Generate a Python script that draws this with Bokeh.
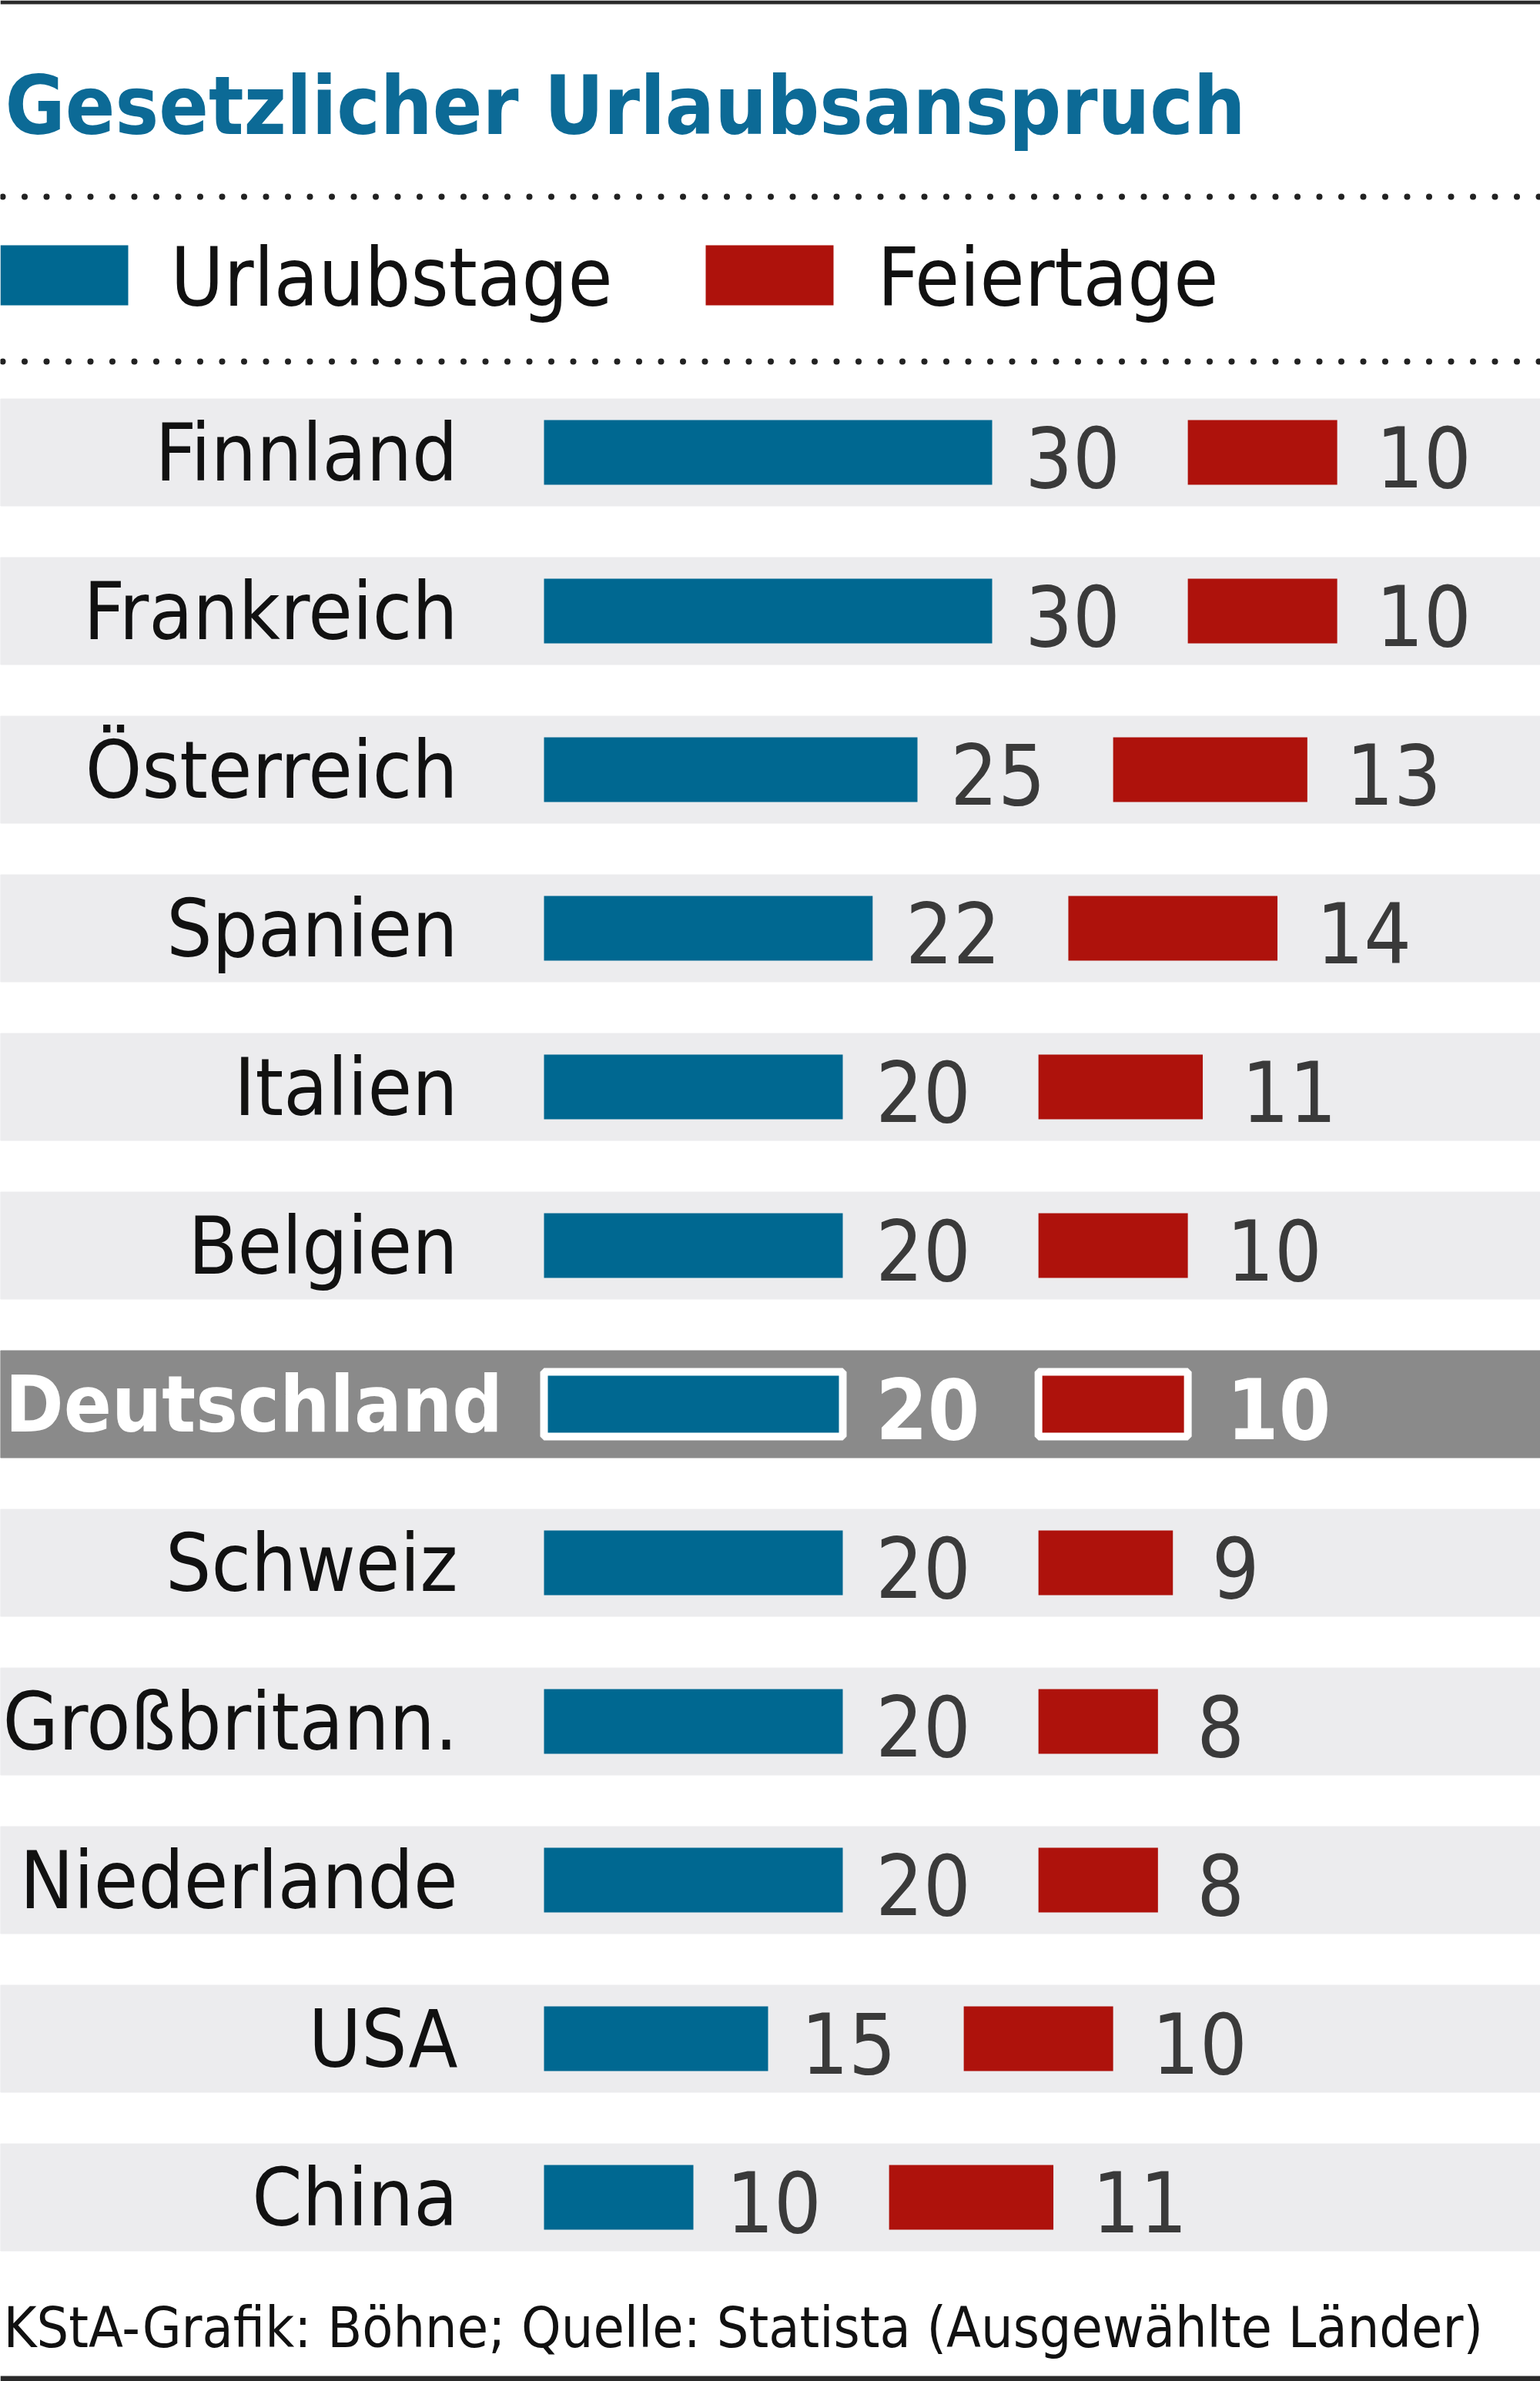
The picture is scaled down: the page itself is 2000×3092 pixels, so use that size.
import numpy as np
from bokeh.plotting import figure
from bokeh.models import ColumnDataSource, Range1d
from bokeh.core.properties import value
from bokeh.embed import file_html
from bokeh.resources import INLINE

# ---------------- data ----------------
countries = ["Finnland", "Frankreich", "Österreich", "Spanien", "Italien", "Belgien",
             "Deutschland", "Schweiz", "Großbritann.", "Niederlande", "USA", "China"]
urlaubstage = [30, 30, 25, 22, 20, 20, 20, 20, 20, 20, 15, 10]
feiertage = [10, 10, 13, 14, 11, 10, 10, 9, 8, 8, 10, 11]
highlight = "Deutschland"

title_text = "Gesetzlicher Urlaubsanspruch"
legend_labels = ["Urlaubstage", "Feiertage"]
footer_text = "KStA-Grafik: Böhne; Quelle: Statista (Ausgewählte Länder)"

# ---------------- styling ----------------
W, H = 2000, 3092
PX_PER_DAY = 19.4
ZERO_PX = 706.0
ROW_PX = 206.0
ROW0_PX = 587.0
GAP_DAYS = 13.1

FONT = "DejaVu Sans Condensed"
BLUE = "#006891"
RED = "#ae120c"
TITLE_BLUE = "#0c6a96"
BAND = "#ececee"
BAND_HL = "#8a8a8a"
VAL_COL = "#3a3a3a"


def X(px):
    return (px - ZERO_PX) / PX_PER_DAY


def Y(py):
    return (py - ROW0_PX) / ROW_PX


p = figure(width=W, height=H, output_backend="svg", toolbar_location=None,
           x_range=Range1d(X(0), X(W)), y_range=Range1d(Y(H), Y(0)),
           x_axis_location=None, y_axis_location=None, min_border=0,
           background_fill_color="white", border_fill_color="white")
p.outline_line_color = None
p.xgrid.visible = False
p.ygrid.visible = False

n = len(countries)
idx = list(range(n))
is_hl = [c == highlight for c in countries]
red_left = [u + GAP_DAYS for u in urlaubstage]
red_right = [u + GAP_DAYS + f for u, f in zip(urlaubstage, feiertage)]

src = ColumnDataSource(dict(
    y=idx,
    u=urlaubstage,
    f=feiertage,
    rl=red_left,
    rr=red_right,
    band=[BAND_HL if h else BAND for h in is_hl],
    bar_line=["white" if h else None for h in is_hl],
    val_col=["white" if h else VAL_COL for h in is_hl],
    val_style=["bold" if h else "normal" for h in is_hl],
    u_txt=[str(v) for v in urlaubstage],
    f_txt=[str(v) for v in feiertage],
    u_lx=[u + 2.2 for u in urlaubstage],
    f_lx=[r + 2.6 for r in red_right],
    val_y=[i + 5 / ROW_PX for i in idx],
))

# row bands
p.hbar(y="y", height=139 / ROW_PX, left=X(0), right=X(W), color="band", source=src)

# bars
p.hbar(y="y", height=84 / ROW_PX, left=0, right="u", fill_color=BLUE,
       line_color="bar_line", line_width=10, source=src)
p.hbar(y="y", height=84 / ROW_PX, left="rl", right="rr", fill_color=RED,
       line_color="bar_line", line_width=10, source=src)

# country labels (normal rows)
normal = ColumnDataSource(dict(
    y=[i for i in idx if not is_hl[i]],
    t=[countries[i] for i in idx if not is_hl[i]],
))
p.text(x=X(594), y="y", text="t", source=normal, text_align="right",
       text_baseline="middle", text_font=value(FONT), text_font_size="104px",
       text_color="#111111")
hl_i = countries.index(highlight)
p.text(x=[X(6)], y=[hl_i], text=[highlight], text_align="left",
       text_baseline="middle", text_font=value(FONT), text_font_size="102px",
       text_font_style="bold", text_color="white")

# value labels
p.text(x="u_lx", y="val_y", text="u_txt", source=src, text_align="left",
       text_baseline="middle", text_font=value(FONT), text_font_size="108px",
       text_color="val_col", text_font_style="val_style")
p.text(x="f_lx", y="val_y", text="f_txt", source=src, text_align="left",
       text_baseline="middle", text_font=value(FONT), text_font_size="108px",
       text_color="val_col", text_font_style="val_style")

# title
p.text(x=[X(6)], y=[Y(137)], text=[title_text], text_align="left",
       text_baseline="middle", text_font=value(FONT), text_font_size="106px",
       text_font_style="bold", text_color=TITLE_BLUE)

# dotted separators
dot_x = [X(v) for v in np.arange(3, W, 28.5)]
for yy in (255, 469):
    p.scatter(x=dot_x, y=[Y(yy)] * len(dot_x), size=8, marker="circle",
              fill_color="#222222", line_color=None)

# legend
p.quad(left=[X(0), X(916)], right=[X(166), X(1082)], top=[Y(318)] * 2,
       bottom=[Y(396)] * 2, fill_color=[BLUE, RED], line_color=None)
p.text(x=[X(221), X(1139)], y=[Y(360)] * 2, text=legend_labels, text_align="left",
       text_baseline="middle", text_font=value(FONT), text_font_size="105px",
       text_color="#111111")

# footer
p.text(x=[X(4)], y=[Y(3022)], text=[footer_text], text_align="left",
       text_baseline="middle", text_font=value(FONT), text_font_size="73px",
       text_color="#111111")

# frame lines top/bottom
p.quad(left=[X(0), X(0)], right=[X(W), X(W)], top=[Y(0), Y(3085)],
       bottom=[Y(5), Y(H)], fill_color="#2a2a2a", line_color=None)

open("out.html", "w").write(file_html(p, INLINE))
